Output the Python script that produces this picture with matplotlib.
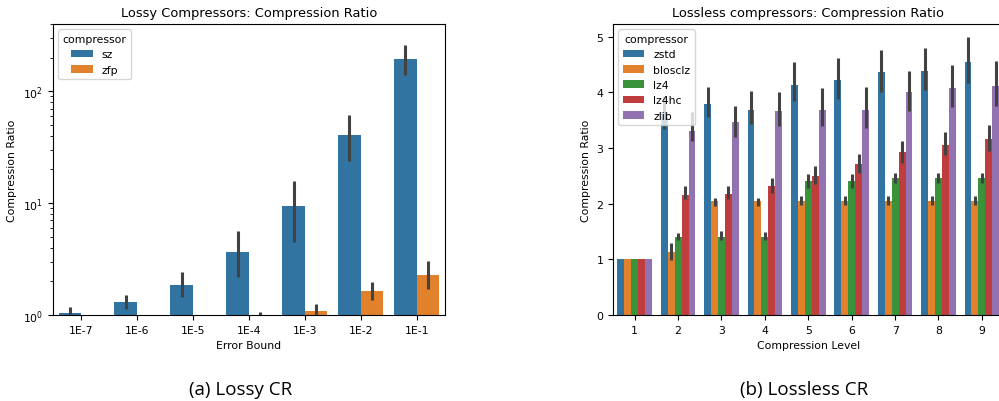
import matplotlib
matplotlib.use("Agg")
import matplotlib.pyplot as plt
import numpy as np

# lossy data (log scale)
error_bounds = ["1E-7", "1E-6", "1E-5", "1E-4", "1E-3", "1E-2", "1E-1"]
lossy_names = ["sz", "zfp"]
sz_mean = [1.05, 1.30, 1.85, 3.63, 9.46, 41.0, 193.0]
sz_lo = [0.95, 1.13, 1.46, 2.20, 4.46, 23.9, 139.0]
sz_hi = [1.18, 1.52, 2.40, 5.66, 15.8, 61.0, 259.0]
zfp_mean = [1.0, 1.0, 1.0, 1.0, 1.09, 1.65, 2.28]
zfp_lo = [1.0, 1.0, 1.0, 0.98, 0.98, 1.36, 1.71]
zfp_hi = [1.0, 1.0, 1.0, 1.06, 1.25, 1.98, 3.03]

# lossless data
levels = ["1", "2", "3", "4", "5", "6", "7", "8", "9"]
lossless_names = ["zstd", "blosclz", "lz4", "lz4hc", "zlib"]
zstd_mean = [1.0, 3.65, 3.80, 3.69, 4.14, 4.22, 4.36, 4.39, 4.55]
zstd_lo = [1.0, 3.35, 3.55, 3.43, 3.85, 3.88, 4.00, 4.05, 4.17]
zstd_hi = [1.0, 3.93, 4.09, 4.02, 4.55, 4.61, 4.76, 4.79, 5.00]
blosclz_mean = [1.0, 1.13, 2.04, 2.04, 2.05, 2.05, 2.05, 2.05, 2.05]
blosclz_lo = [1.0, 0.98, 1.95, 1.96, 1.98, 1.98, 1.98, 1.98, 1.98]
blosclz_hi = [1.0, 1.29, 2.11, 2.11, 2.13, 2.13, 2.13, 2.13, 2.13]
lz4_mean = [1.0, 1.41, 1.41, 1.41, 2.40, 2.40, 2.47, 2.46, 2.46]
lz4_lo = [1.0, 1.34, 1.34, 1.35, 2.29, 2.29, 2.38, 2.37, 2.37]
lz4_hi = [1.0, 1.47, 1.50, 1.49, 2.53, 2.53, 2.56, 2.56, 2.56]
lz4hc_mean = [1.0, 2.16, 2.18, 2.31, 2.49, 2.71, 2.92, 3.06, 3.16]
lz4hc_lo = [1.0, 2.08, 2.08, 2.19, 2.35, 2.55, 2.73, 2.87, 2.94]
lz4hc_hi = [1.0, 2.31, 2.31, 2.46, 2.68, 2.90, 3.12, 3.28, 3.41]
zlib_mean = [1.0, 3.30, 3.47, 3.66, 3.68, 3.69, 4.00, 4.08, 4.12]
zlib_lo = [1.0, 3.13, 3.20, 3.39, 3.40, 3.36, 3.67, 3.73, 3.75]
zlib_hi = [1.0, 3.64, 3.75, 4.00, 4.08, 4.10, 4.39, 4.49, 4.57]

colors = ["#3274a1", "#e1812c", "#3a923a", "#c03d3e", "#9372b2"]
ERR = "#424242"
FS = 7.8


def grouped_bars(ax, cats, names, means, los, his):
    n = len(names)
    w = 0.8 / n
    x = np.arange(len(cats))
    for i, name in enumerate(names):
        pos = x - 0.4 + w * (i + 0.5)
        ax.bar(pos, means[i], width=w, color=colors[i], label=name)
        ax.vlines(pos, los[i], his[i], color=ERR, lw=2.2, zorder=3)
    ax.set_xticks(x)
    ax.set_xticklabels(cats)
    ax.set_xlim(-0.5, len(cats) - 0.5)
    ax.tick_params(labelsize=FS)
    leg = ax.legend(title="compressor", loc="upper left", fontsize=FS,
                    title_fontsize=FS)
    leg.set_zorder(5)


fig = plt.figure(figsize=(9.99, 4.02), dpi=100)

ax1 = fig.add_axes([0.053, 0.214, 0.392, 0.724])
ax1.set_yscale("log")
grouped_bars(ax1, error_bounds, lossy_names,
             [sz_mean, zfp_mean], [sz_lo, zfp_lo], [sz_hi, zfp_hi])
ax1.set_ylim(1, 400)
ax1.set_title("Lossy Compressors: Compression Ratio", fontsize=9.4)
ax1.set_xlabel("Error Bound", fontsize=FS)
ax1.set_ylabel("Compression Ratio", fontsize=FS)

ax2 = fig.add_axes([0.6136, 0.214, 0.391, 0.724])
grouped_bars(ax2, levels, lossless_names,
             [zstd_mean, blosclz_mean, lz4_mean, lz4hc_mean, zlib_mean],
             [zstd_lo, blosclz_lo, lz4_lo, lz4hc_lo, zlib_lo],
             [zstd_hi, blosclz_hi, lz4_hi, lz4hc_hi, zlib_hi])
ax2.set_ylim(0, 5.23)
ax2.set_title("Lossless compressors: Compression Ratio", fontsize=9.4)
ax2.set_xlabel("Compression Level", fontsize=FS)
ax2.set_ylabel("Compression Ratio", fontsize=FS)

fig.text(0.241, 0.0174, "(a) Lossy CR", ha="center", va="baseline",
         fontsize=13.5, family="Open Sans")
fig.text(0.805, 0.0174, "(b) Lossless CR", ha="center", va="baseline",
         fontsize=13.5, family="Open Sans")

fig.savefig("out.png", dpi=100)
